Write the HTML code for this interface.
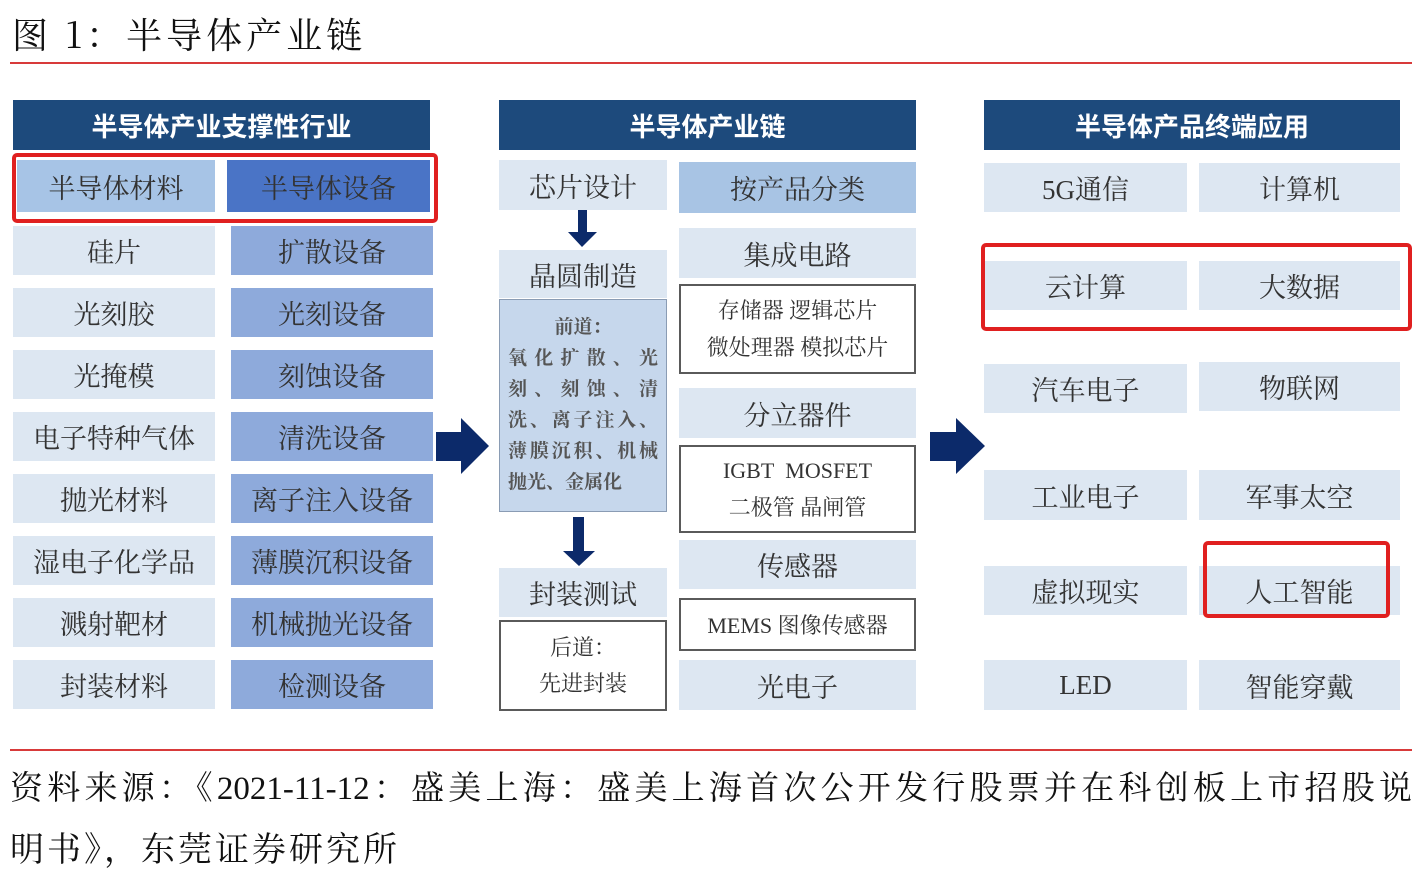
<!DOCTYPE html>
<html><head><meta charset="utf-8"><style>
body{margin:0;background:#fff;}
#c{position:relative;width:1421px;height:873px;overflow:hidden;background:#fff;font-family:"Liberation Serif","Noto Serif CJK SC",serif;}
.b{position:absolute;display:flex;align-items:center;justify-content:center;text-align:center;color:#333;font-size:27px;box-sizing:border-box;}
.h{background:#1d4a7c;color:#fff;font-family:"Liberation Sans","Noto Sans CJK SC",sans-serif;font-weight:bold;font-size:26px;}
.l{background:#dde7f2;}
.e{background:#8eaadb;}
.w{background:#fff;border:2px solid #5a5a5a;}
.r{position:absolute;border:4px solid #e02020;border-radius:5px;box-sizing:border-box;}
.ln{position:absolute;left:10px;width:1402px;height:2px;background:#d83a3a;}
</style></head><body><div id="c">
<div style="position:absolute;left:12px;top:8px;font-size:36px;letter-spacing:4px;color:#111;font-family:'Noto Serif CJK SC',serif;white-space:nowrap;">图 1：半导体产业链</div>
<div class="ln" style="top:62px"></div>

<div class="b h" style="left:13px;top:100px;width:417px;height:50px;">半导体产业支撑性行业</div>
<div class="b" style="left:17px;top:160px;width:198px;height:52px;background:#a7c4e6;">半导体材料</div>
<div class="b" style="left:227px;top:160px;width:203px;height:52px;background:#4a74c6;">半导体设备</div>
<div class="r" style="left:12px;top:153px;width:426px;height:70px;"></div>

<div class="b l" style="left:13px;top:226px;width:202px;height:49px;">硅片</div>
<div class="b e" style="left:231px;top:226px;width:202px;height:49px;">扩散设备</div>
<div class="b l" style="left:13px;top:288px;width:202px;height:49px;">光刻胶</div>
<div class="b e" style="left:231px;top:288px;width:202px;height:49px;">光刻设备</div>
<div class="b l" style="left:13px;top:350px;width:202px;height:49px;">光掩模</div>
<div class="b e" style="left:231px;top:350px;width:202px;height:49px;">刻蚀设备</div>
<div class="b l" style="left:13px;top:412px;width:202px;height:49px;">电子特种气体</div>
<div class="b e" style="left:231px;top:412px;width:202px;height:49px;">清洗设备</div>
<div class="b l" style="left:13px;top:474px;width:202px;height:49px;">抛光材料</div>
<div class="b e" style="left:231px;top:474px;width:202px;height:49px;">离子注入设备</div>
<div class="b l" style="left:13px;top:536px;width:202px;height:49px;">湿电子化学品</div>
<div class="b e" style="left:231px;top:536px;width:202px;height:49px;">薄膜沉积设备</div>
<div class="b l" style="left:13px;top:598px;width:202px;height:49px;">溅射靶材</div>
<div class="b e" style="left:231px;top:598px;width:202px;height:49px;">机械抛光设备</div>
<div class="b l" style="left:13px;top:660px;width:202px;height:49px;">封装材料</div>
<div class="b e" style="left:231px;top:660px;width:202px;height:49px;">检测设备</div>

<svg style="position:absolute;left:0;top:0" width="1421" height="873">
<polygon points="436,432 461,432 461,418 489,446 461,474 461,461 436,461" fill="#0c2a6a"/>
<polygon points="930,432 956,432 956,418 985,446 956,474 956,461 930,461" fill="#0c2a6a"/>
<polygon points="578,210 587,210 587,232 597,232 582,247 568,232 578,232" fill="#0c2a6a"/>
<polygon points="573,517 584,517 584,551 595,551 579,566 563,551 573,551" fill="#0c2a6a"/>
</svg>

<div class="b h" style="left:499px;top:100px;width:417px;height:50px;">半导体产业链</div>
<div class="b l" style="left:499px;top:160px;width:168px;height:50px;">芯片设计</div>
<div class="b" style="left:679px;top:162px;width:237px;height:51px;background:#a8c4e4;">按产品分类</div>
<div class="b l" style="left:499px;top:250px;width:168px;height:48px;">晶圆制造</div>
<div class="b" style="left:499px;top:299px;width:168px;height:213px;background:#c6d7ec;border:1px solid #8a9cb4;font-size:19px;font-weight:bold;line-height:31px;padding:12px 8px 0;color:#555;display:block;text-align:justify;text-align-last:justify;">
<div style="text-align:center;text-align-last:center;">前道：</div>氧化扩散、光刻、刻蚀、清洗、离子注入、薄膜沉积、机械<div style="text-align:left;text-align-last:left;">抛光、金属化</div></div>
<div class="b l" style="left:499px;top:568px;width:168px;height:49px;">封装测试</div>
<div class="b w" style="left:499px;top:620px;width:168px;height:91px;font-size:22px;line-height:36px;">后道：<br>先进封装</div>

<div class="b l" style="left:679px;top:228px;width:237px;height:50px;">集成电路</div>
<div class="b w" style="left:679px;top:284px;width:237px;height:90px;font-size:22px;line-height:37px;">存储器&nbsp;逻辑芯片<br>微处理器&nbsp;模拟芯片</div>
<div class="b l" style="left:679px;top:388px;width:237px;height:50px;">分立器件</div>
<div class="b w" style="left:679px;top:445px;width:237px;height:88px;font-size:22px;line-height:37px;">IGBT&nbsp; MOSFET<br>二极管&nbsp;晶闸管</div>
<div class="b l" style="left:679px;top:540px;width:237px;height:49px;">传感器</div>
<div class="b w" style="left:679px;top:598px;width:237px;height:53px;font-size:22px;">MEMS&nbsp;图像传感器</div>
<div class="b l" style="left:679px;top:660px;width:237px;height:50px;">光电子</div>

<div class="b h" style="left:984px;top:100px;width:416px;height:50px;">半导体产品终端应用</div>
<div class="b l" style="left:984px;top:163px;width:203px;height:49px;">5G通信</div>
<div class="b l" style="left:1199px;top:163px;width:201px;height:49px;">计算机</div>
<div class="b l" style="left:984px;top:261px;width:203px;height:49px;">云计算</div>
<div class="b l" style="left:1199px;top:261px;width:201px;height:49px;">大数据</div>
<div class="r" style="left:981px;top:243px;width:431px;height:88px;"></div>
<div class="b l" style="left:984px;top:364px;width:203px;height:49px;">汽车电子</div>
<div class="b l" style="left:1199px;top:362px;width:201px;height:49px;">物联网</div>
<div class="b l" style="left:984px;top:470px;width:203px;height:50px;">工业电子</div>
<div class="b l" style="left:1199px;top:470px;width:201px;height:50px;">军事太空</div>
<div class="b l" style="left:984px;top:566px;width:203px;height:49px;">虚拟现实</div>
<div class="b l" style="left:1199px;top:566px;width:201px;height:49px;">人工智能</div>
<div class="r" style="left:1203px;top:541px;width:187px;height:77px;"></div>
<div class="b l" style="left:984px;top:660px;width:203px;height:50px;">LED</div>
<div class="b l" style="left:1199px;top:660px;width:201px;height:50px;">智能穿戴</div>

<div class="ln" style="top:749px"></div>
<div style="position:absolute;left:10px;top:762px;width:1402px;font-size:33px;color:#111;text-align:justify;text-align-last:justify;white-space:nowrap;">资料来源：《2021-11-12：盛美上海：盛美上海首次公开发行股票并在科创板上市招股说</div>
<div style="position:absolute;left:10px;top:822px;font-size:34px;letter-spacing:3px;color:#111;font-family:'Noto Serif CJK SC',serif;white-space:nowrap;">明书》，东莞证券研究所</div>
</div></body></html>
